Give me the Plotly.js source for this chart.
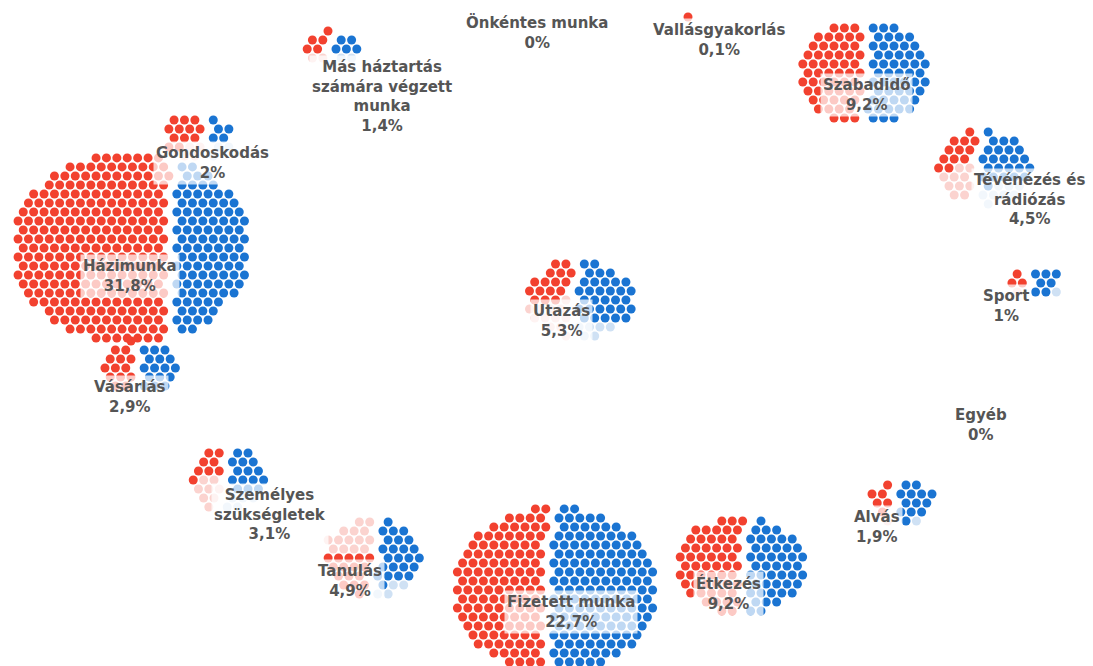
<!DOCTYPE html>
<html><head><meta charset="utf-8">
<script src="https://cdn.plot.ly/plotly-3.0.1.min.js"></script>
<style>html,body{margin:0;padding:0;background:#fff}#chart{width:1093px;height:666px}</style>
</head><body><div id="chart"></div>
<script>
// ---- data ----
const categories = ["Önkéntes munka","Vallásgyakorlás","Szabadidő","Tévénézés és rádiózás","Sport","Egyéb","Alvás","Étkezés","Fizetett munka","Tanulás","Személyes szükségletek","Vásárlás","Házimunka","Gondoskodás","Más háztartás számára végzett munka","Utazás"];
const labelLines = [["Önkéntes munka"],["Vallásgyakorlás"],["Szabadidő"],["Tévénézés és","rádiózás"],["Sport"],["Egyéb"],["Alvás"],["Étkezés"],["Fizetett munka"],["Tanulás"],["Személyes","szükségletek"],["Vásárlás"],["Házimunka"],["Gondoskodás"],["Más háztartás","számára végzett","munka"],["Utazás"]];
const percentLabels = ["0%","0,1%","9,2%","4,5%","1%","0%","1,9%","9,2%","22,7%","4,9%","3,1%","2,9%","31,8%","2%","1,4%","5,3%"];
const womenDots = [0,1,55,22,4,0,7,54,125,30,16,14,265,16,7,28];
const menDots   = [0,0,52,32,8,0,14,46,150,28,20,16,105,8,7,38];
const womenFaded = [0,0,0,10,1,0,1,0,0,14,8,0,0,4,2,12];
const menFaded   = [0,0,0,8,1,0,1,0,0,4,5,0,0,3,2,6];

// ---- layout (pixel positions of cluster centres and labels, fade side) ----
const clusterPos = [[537,20],[692,17],[864,73],[984,168],[1035,283],[981,420],[902,503],[741,566],[555,590],[373,558],[228,480],[140,368],[131,248],[198,138],[332,49],[580,300]];
const labelPos = [[537,32],[719,40],[866,95],[1029,199],[1006,306],[981,425],[877,527],[728,593],[571,612],[350,581],[270,514],[130,397],[130,276],[212,163],[382,96],[561,321]];
const womenFadeTop = [false,false,false,false,false,false,false,false,false,true,false,false,false,false,false,false];

const S = 10.4, GAP = 8, ASP = 1.1;
const RED = '#f2412f', BLUE = '#1a74d2', LRED = '#fbd3cf', LBLUE = '#cfe1f4';

function layoutCluster(cx, cy, w, m, fw, fm, fwTop) {
  const n = w + m;
  const out = {r:[], b:[], lr:[], lb:[]};
  if (n === 0) return out;
  const R = Math.ceil(Math.sqrt(n) * 1.2) + 3;
  const cand = [];
  for (let j = -R; j <= R; j++) {
    for (let i = -R; i <= R; i++) {
      const x = (i + (Math.abs(j) % 2 ? 0.5 : 0)) * S;
      const y = j * S * 0.866;
      cand.push({x, y, k: (x/ASP)*(x/ASP) + (y*ASP)*(y*ASP)});
    }
  }
  cand.sort((a,b)=>a.k-b.k);
  const sel = cand.slice(0, n);
  const meanX = sel.reduce((s,p)=>s+p.x,0)/n;
  sel.sort((a,b)=> (a.x-b.x) || (a.y-b.y));
  const women = sel.slice(0, w).map(p=>({x:cx + p.x - meanX - GAP/2, y:cy + p.y}));
  const men = sel.slice(w).map(p=>({x:cx + p.x - meanX + GAP/2, y:cy + p.y}));
  women.sort((a,b)=> fwTop ? b.y-a.y : a.y-b.y); men.sort((a,b)=>a.y-b.y);
  women.forEach((p,i)=>{ (i >= w - fw ? out.lr : out.r).push(p); });
  men.forEach((p,i)=>{ (i >= m - fm ? out.lb : out.b).push(p); });
  return out;
}

const groups = {r:{x:[],y:[]}, b:{x:[],y:[]}, lr:{x:[],y:[]}, lb:{x:[],y:[]}};
categories.forEach((c, idx) => {
  const [cx, cy] = clusterPos[idx];
  const res = layoutCluster(cx, cy, womenDots[idx], menDots[idx], womenFaded[idx], menFaded[idx], womenFadeTop[idx]);
  for (const g of ['r','b','lr','lb']) res[g].forEach(p=>{groups[g].x.push(p.x); groups[g].y.push(p.y);});
});

const mk = (g, col) => ({type:'scatter', mode:'markers', x:groups[g].x, y:groups[g].y,
  marker:{size:9, color:col, line:{width:0}}, hoverinfo:'skip', showlegend:false});
const traces = [mk('lr', LRED), mk('lb', LBLUE), mk('r', RED), mk('b', BLUE)];

const annotations = categories.map((c, idx) => ({
  x: labelPos[idx][0], y: labelPos[idx][1], xref:'x', yref:'y',
  text: labelLines[idx].concat([percentLabels[idx]]).map(s=>'<b>'+s+'</b>').join('<br>'),
  showarrow:false, xanchor:'center', yanchor:'middle', align:'center',
  font:{family:'DejaVu Sans, Verdana, sans-serif', size:15, color:'#555'},
  bgcolor:'rgba(255,255,255,0.72)', borderpad:2
}));

const layout = {
  width:1093, height:666, margin:{l:0,r:0,t:0,b:0},
  paper_bgcolor:'#fff', plot_bgcolor:'#fff',
  xaxis:{range:[0,1093], visible:false, fixedrange:true},
  yaxis:{range:[666,0], visible:false, fixedrange:true},
  annotations, showlegend:false
};
Plotly.newPlot('chart', traces, layout, {displayModeBar:false, staticPlot:true});
</script></body></html>
